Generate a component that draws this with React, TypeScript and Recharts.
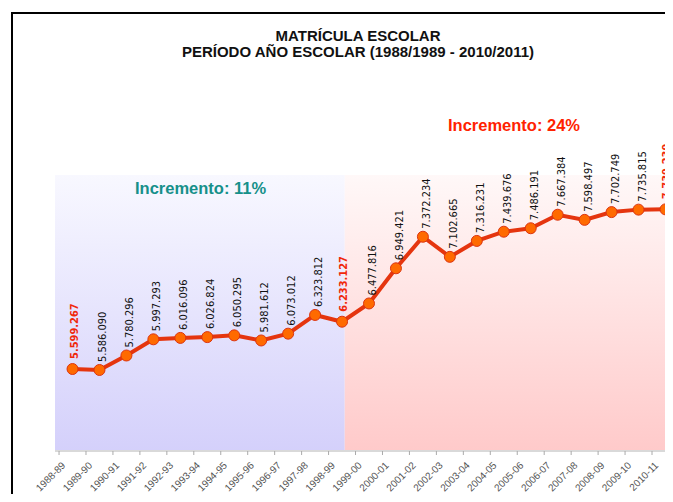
import React from 'react';
import { LineChart, Line, XAxis, YAxis, ReferenceArea } from 'recharts';

const periods = [
  '1988-89', '1989-90', '1990-91', '1991-92', '1992-93', '1993-94', '1994-95', '1995-96',
  '1996-97', '1997-98', '1998-99', '1999-00', '2000-01', '2001-02', '2002-03', '2003-04',
  '2004-05', '2005-06', '2006-07', '2007-08', '2008-09', '2009-10', '2010-11',
];

const enrollment = [
  5599267, 5586090, 5780296, 5997293, 6016096, 6026824, 6050295, 5981612,
  6073012, 6323812, 6233127, 6477816, 6949421, 7372234, 7102665, 7316231,
  7439676, 7486191, 7667384, 7598497, 7702749, 7735815, 7739239,
];

// points whose value label is drawn in bold red (period start / end)
const highlighted = [0, 10, 22];

const Y_MIN = 4500000;
const Y_MAX = 8200000;
const X_MIN = -0.65;
const X_MAX = 22.65;
const SPLIT = 10.1;

const data = periods.map((p, i) => ({ idx: i, period: p, value: enrollment[i] }));
const tickPositions = periods.map((_, i) => i - 0.5);

const fmt = (v: number) => v.toLocaleString('de-DE');

const renderLabel = (props: any) => {
  const { x, y, value, index } = props;
  const red = highlighted.includes(index);
  const tx = x + (red ? 5 : 7);
  const ty = y - (red ? 10 : 8);
  return (
    <text
      key={`lbl-${index}`}
      transform={`translate(${tx},${ty}) rotate(-90)`}
      textAnchor="start"
      fontFamily="'DejaVu Sans Condensed', 'DejaVu Sans', sans-serif"
      fontSize={11}
      fontWeight={red ? 'bold' : 'normal'}
      fill={red ? '#f0280a' : '#111'}
    >
      {fmt(value)}
    </text>
  );
};

const renderDot = (props: any) => {
  const { cx, cy, index } = props;
  return <circle key={`dot-${index}`} cx={cx} cy={cy} r={5.5} fill="#ff6a00" stroke="#dc3410" strokeWidth={1} />;
};

const PeriodTick = (props: any) => {
  const { x, y, payload } = props;
  const label = periods[Math.round(payload.value + 0.5)];
  const ax = x + 7;
  const ay = y + 9;
  return (
    <text
      x={ax}
      y={ay}
      transform={`rotate(-45, ${ax}, ${ay})`}
      textAnchor="end"
      fontFamily="'Liberation Sans', Arial, sans-serif"
      fontSize={10}
      fill="#555"
    >
      {label}
    </text>
  );
};

const App = () => {
  return (
    <div style={{ margin: -8, width: 673, height: 502, overflow: 'hidden', position: 'relative', background: '#fff' }}>
      <svg width={0} height={0} style={{ position: 'absolute' }}>
        <defs>
          <linearGradient id="blueBand" x1="0" y1="0" x2="0" y2="1">
            <stop offset="0%" stopColor="#f8f8ff" />
            <stop offset="100%" stopColor="#d4d0fb" />
          </linearGradient>
          <linearGradient id="redBand" x1="0" y1="0" x2="0" y2="1">
            <stop offset="0%" stopColor="#fff8f8" />
            <stop offset="100%" stopColor="#ffcaca" />
          </linearGradient>
        </defs>
      </svg>

      <div
        style={{
          position: 'absolute', left: 11, top: 12, width: 700, height: 600,
          borderLeft: '2px solid #000', borderTop: '2px solid #000',
        }}
      />

      <div style={{ position: 'absolute', left: 0, top: 0 }}>
        <LineChart
          width={700}
          height={520}
          data={data}
          margin={{ top: 175, right: 17, left: 55, bottom: 29 }}
        >
          <XAxis
            type="number"
            dataKey="idx"
            domain={[X_MIN, X_MAX]}
            ticks={tickPositions}
            interval={0}
            height={40}
            tick={<PeriodTick />}
            tickSize={4}
            axisLine={{ stroke: '#d9d9d9', strokeWidth: 2 }}
            tickLine={{ stroke: '#aaa' }}
          />
          <YAxis hide domain={[Y_MIN, Y_MAX]} />
          <ReferenceArea x1={X_MIN} x2={SPLIT} y1={Y_MIN} y2={Y_MAX} fill="url(#blueBand)" fillOpacity={1} stroke="none" />
          <ReferenceArea x1={SPLIT} x2={X_MAX} y1={Y_MIN} y2={Y_MAX} fill="url(#redBand)" fillOpacity={1} stroke="none" />
          <Line
            type="linear"
            dataKey="value"
            stroke="#e5350f"
            strokeWidth={4}
            dot={renderDot}
            activeDot={false}
            label={renderLabel}
            isAnimationActive={false}
          />
        </LineChart>
      </div>

      <div
        style={{
          position: 'absolute', left: 0, top: 28, width: 716, textAlign: 'center',
          fontFamily: "'Liberation Sans', Arial, sans-serif", fontWeight: 'bold',
          fontSize: 15, lineHeight: '16px', color: '#111',
        }}
      >
        <div>MATRÍCULA ESCOLAR</div>
        <div>PERÍODO AÑO ESCOLAR (1988/1989 - 2010/2011)</div>
      </div>

      <div
        style={{
          position: 'absolute', left: 448, top: 116, fontFamily: "'Liberation Sans', Arial, sans-serif",
          fontWeight: 'bold', fontSize: 16.5, color: '#ff2200', whiteSpace: 'nowrap',
        }}
      >
        Incremento: 24%
      </div>
      <div
        style={{
          position: 'absolute', left: 135, top: 179, fontFamily: "'Liberation Sans', Arial, sans-serif",
          fontWeight: 'bold', fontSize: 16.5, color: '#16908a', whiteSpace: 'nowrap',
        }}
      >
        Incremento: 11%
      </div>

      <div
        style={{
          position: 'absolute', left: 28, top: 498, fontFamily: "'Liberation Sans', Arial, sans-serif",
          fontWeight: 'bold', fontSize: 11, color: '#aaa', whiteSpace: 'nowrap',
        }}
      >
        FUENTE: MPPE - DIRECCIÓN DE ESTADÍSTICA
      </div>
    </div>
  );
};

export default App;
